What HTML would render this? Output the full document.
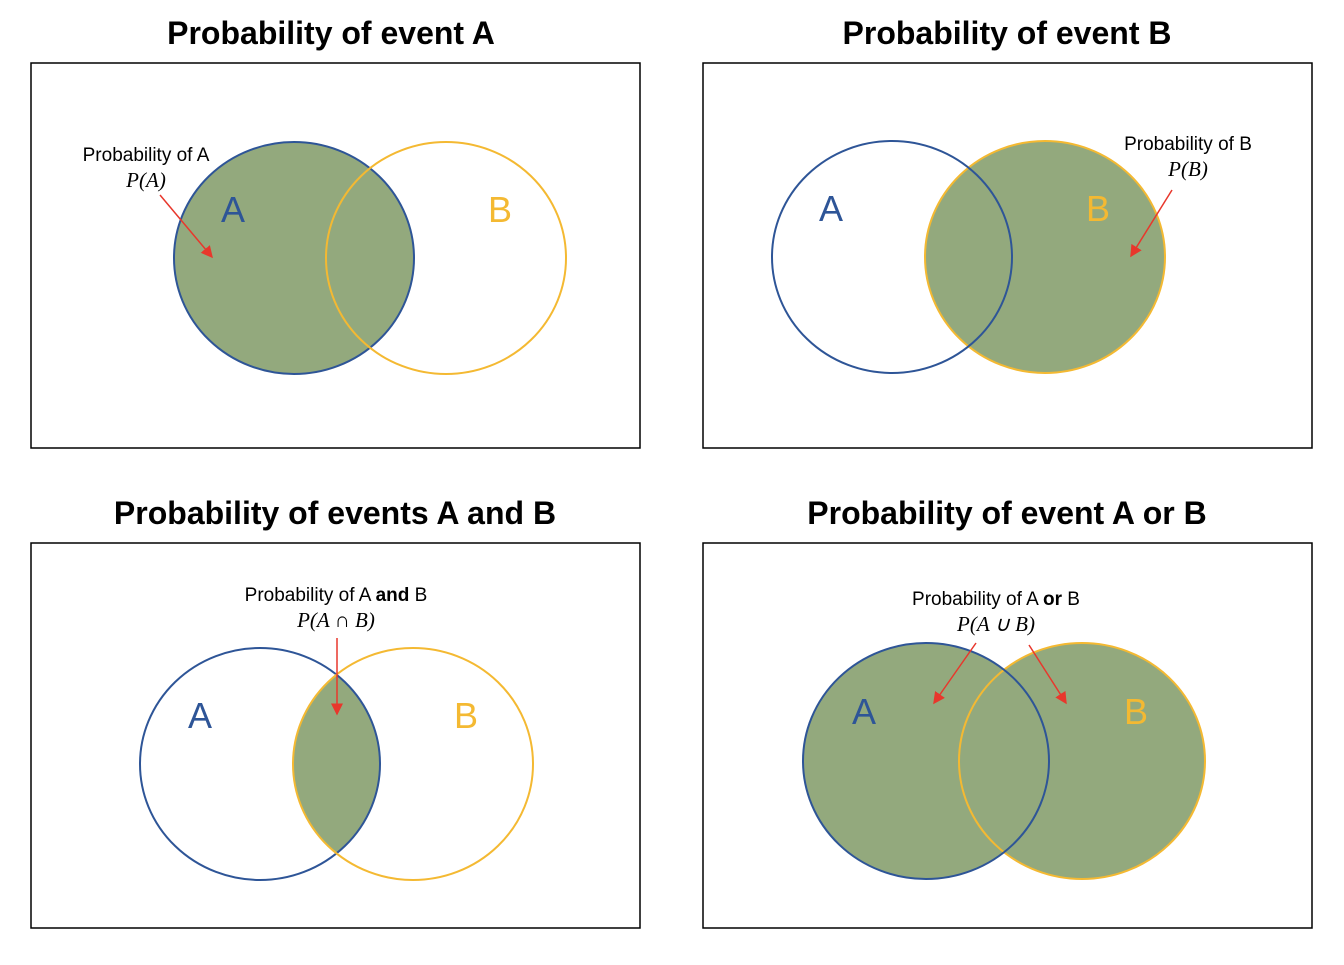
<!DOCTYPE html>
<html><head><meta charset="utf-8"><style>
body{margin:0;background:#fff}
svg text{font-family:"Liberation Sans",sans-serif}
.t{font-size:32px;font-weight:bold;fill:#000}
.l{font-size:19px;fill:#000}
.m{font-family:"Liberation Serif",serif !important;font-style:italic;font-size:21px;fill:#000}
.big{font-size:36px}
</style></head><body>
<svg width="1344" height="960" viewBox="0 0 1344 960">
<defs>
<marker id="ar" markerWidth="8" markerHeight="8" refX="7" refY="4" orient="auto"><path d="M0,0 L8,4 L0,8 z" fill="#e8372c"/></marker>
<clipPath id="clipA3"><ellipse cx="260" cy="764" rx="120" ry="116"/></clipPath>
</defs>
<g>
<text class="t" x="331" y="44" text-anchor="middle">Probability of event A</text>
<rect x="31" y="63" width="609" height="385" fill="none" stroke="#000" stroke-width="1.5"/>
<ellipse cx="294" cy="258" rx="120" ry="116" fill="#93a97d"/>
<ellipse cx="294" cy="258" rx="120" ry="116" fill="none" stroke="#2e5597" stroke-width="2"/>
<ellipse cx="446" cy="258" rx="120" ry="116" fill="none" stroke="#f4b932" stroke-width="2"/>
<text class="big" x="233" y="222" fill="#2e5597" text-anchor="middle">A</text>
<text class="big" x="500" y="222" fill="#f4b932" text-anchor="middle">B</text>
<text class="l" x="146" y="161" text-anchor="middle">Probability of A</text>
<text class="m" x="146" y="187" text-anchor="middle">P(A)</text>
<line x1="160" y1="195" x2="212" y2="257" stroke="#e8372c" stroke-width="1.5" marker-end="url(#ar)"/>
</g>
<g>
<text class="t" x="1007" y="44" text-anchor="middle">Probability of event B</text>
<rect x="703" y="63" width="609" height="385" fill="none" stroke="#000" stroke-width="1.5"/>
<ellipse cx="1045" cy="257" rx="120" ry="116" fill="#93a97d"/>
<ellipse cx="1045" cy="257" rx="120" ry="116" fill="none" stroke="#f4b932" stroke-width="2"/>
<ellipse cx="892" cy="257" rx="120" ry="116" fill="none" stroke="#2e5597" stroke-width="2"/>
<text class="big" x="831" y="221" fill="#2e5597" text-anchor="middle">A</text>
<text class="big" x="1098" y="221" fill="#f4b932" text-anchor="middle">B</text>
<text class="l" x="1188" y="150" text-anchor="middle">Probability of B</text>
<text class="m" x="1188" y="176" text-anchor="middle">P(B)</text>
<line x1="1172" y1="190" x2="1131" y2="256" stroke="#e8372c" stroke-width="1.5" marker-end="url(#ar)"/>
</g>
<g>
<text class="t" x="335" y="524" text-anchor="middle">Probability of events A and B</text>
<rect x="31" y="543" width="609" height="385" fill="none" stroke="#000" stroke-width="1.5"/>
<ellipse cx="413" cy="764" rx="120" ry="116" fill="#93a97d" clip-path="url(#clipA3)"/>
<ellipse cx="260" cy="764" rx="120" ry="116" fill="none" stroke="#2e5597" stroke-width="2"/>
<ellipse cx="413" cy="764" rx="120" ry="116" fill="none" stroke="#f4b932" stroke-width="2"/>
<text class="big" x="200" y="728" fill="#2e5597" text-anchor="middle">A</text>
<text class="big" x="466" y="728" fill="#f4b932" text-anchor="middle">B</text>
<text class="l" x="336" y="601" text-anchor="middle">Probability of A <tspan font-weight="bold">and</tspan> B</text>
<text class="m" x="336" y="627" text-anchor="middle">P(A ∩ B)</text>
<line x1="337" y1="638" x2="337" y2="714" stroke="#e8372c" stroke-width="1.5" marker-end="url(#ar)"/>
</g>
<g>
<text class="t" x="1007" y="524" text-anchor="middle">Probability of event A or B</text>
<rect x="703" y="543" width="609" height="385" fill="none" stroke="#000" stroke-width="1.5"/>
<ellipse cx="926" cy="761" rx="123" ry="118" fill="#93a97d"/>
<ellipse cx="1082" cy="761" rx="123" ry="118" fill="#93a97d"/>
<ellipse cx="1082" cy="761" rx="123" ry="118" fill="none" stroke="#f4b932" stroke-width="2"/>
<ellipse cx="926" cy="761" rx="123" ry="118" fill="none" stroke="#2e5597" stroke-width="2"/>
<text class="big" x="864" y="724" fill="#2e5597" text-anchor="middle">A</text>
<text class="big" x="1136" y="724" fill="#f4b932" text-anchor="middle">B</text>
<text class="l" x="996" y="605" text-anchor="middle">Probability of A <tspan font-weight="bold">or</tspan> B</text>
<text class="m" x="996" y="631" text-anchor="middle">P(A ∪ B)</text>
<line x1="976" y1="643" x2="934" y2="703" stroke="#e8372c" stroke-width="1.5" marker-end="url(#ar)"/>
<line x1="1029" y1="645" x2="1066" y2="703" stroke="#e8372c" stroke-width="1.5" marker-end="url(#ar)"/>
</g>
</svg>
</body></html>
